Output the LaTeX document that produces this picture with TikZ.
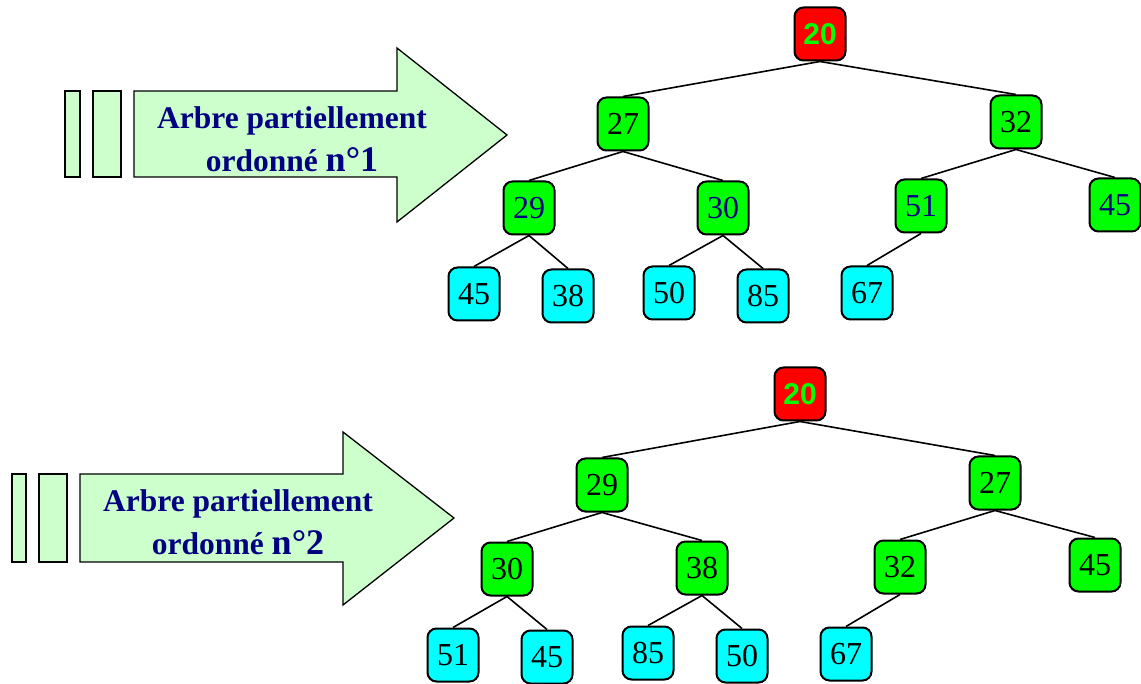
\documentclass[tikz,border=0pt]{standalone}
\usepackage{fontspec}
\setmainfont{Liberation Serif}
\newfontfamily\racinefont{Liberation Sans}
\definecolor{fond}{HTML}{CCFFCC}
\definecolor{marine}{HTML}{000080}
\definecolor{rouge}{HTML}{FF0000}
\definecolor{vert}{HTML}{00FF00}
\definecolor{turquoise}{HTML}{00FFFF}
\newcommand{\gros}{\fontsize{36}{43}\selectfont}
\begin{document}
\begin{tikzpicture}[x=1pt,y=-1pt,
  noeud/.style={draw=black,line width=2pt,rounded corners=9pt,minimum width=51pt,minimum height=53pt,inner sep=0,fill=vert,font=\fontsize{32}{32}\selectfont},
  racine/.style={noeud,fill=rouge,text=vert,font=\racinefont\bfseries\fontsize{30}{30}\selectfont},
  feuille/.style={noeud,fill=turquoise},
  bleu/.style={text=marine},
  lien/.style={line width=1.6pt},
  fleche/.style={draw=black,line width=1.3pt,fill=fond},
  titre/.style={align=center,inner sep=0,text=marine,font=\bfseries\fontsize{31.5}{43}\selectfont}]
\useasboundingbox[fill=white] (0,0) rectangle (1141,684);
% fleche 1
\draw[fleche] (65,91) rectangle (80,177);
\draw[fleche] (93,91) rectangle (121,177);
\draw[fleche] (134,91) -- (397,91) -- (397,48) -- (507,135) -- (397,222) -- (397,177) -- (134,177) -- cycle;
\node[titre] (t1) at (292,139) {Arbre partiellement\\ordonné {\gros n°1}};
% fleche 2
\draw[fleche] (12,474) rectangle (26,562);
\draw[fleche] (39,474) rectangle (67,562);
\draw[fleche] (80,474) -- (343,474) -- (343,432) -- (454,518) -- (343,605) -- (343,562) -- (80,562) -- cycle;
\node[titre] (t2) at (238,522) {Arbre partiellement\\ordonné {\gros n°2}};
% arbre 1
\node[racine] (r1) at (820,34) {20};
\node[noeud] (a1) at (623,124) {27};
\node[noeud] (b1) at (1016,122) {32};
\node[noeud,bleu] (c1) at (529,208) {29};
\node[noeud,bleu] (d1) at (723,208) {30};
\node[noeud,bleu] (e1) at (921,206) {51};
\node[noeud,bleu] (f1) at (1115,205) {45};
\node[feuille] (g1) at (474,294) {45};
\node[feuille] (h1) at (568,296) {38};
\node[feuille] (i1) at (669,293) {50};
\node[feuille] (j1) at (763,296) {85};
\node[feuille] (k1) at (867,293) {67};
% arbre 2
\node[racine] (r2) at (800,394) {20};
\node[noeud] (a2) at (602,485) {29};
\node[noeud] (b2) at (995,483) {27};
\node[noeud] (c2) at (507,569) {30};
\node[noeud] (d2) at (702,568) {38};
\node[noeud] (e2) at (900,567) {32};
\node[noeud] (f2) at (1095,565) {45};
\node[feuille] (g2) at (453,655) {51};
\node[feuille] (h2) at (547,657) {45};
\node[feuille] (i2) at (648,653) {85};
\node[feuille] (j2) at (742,656) {50};
\node[feuille] (k2) at (846,654) {67};
\foreach \n in {1,2}
  \foreach \p/\c in {r/a,r/b,a/c,a/d,b/e,b/f,c/g,c/h,d/i,d/j,e/k}
    \draw[lien] (\p\n.south) -- (\c\n.north);
\end{tikzpicture}
\end{document}
